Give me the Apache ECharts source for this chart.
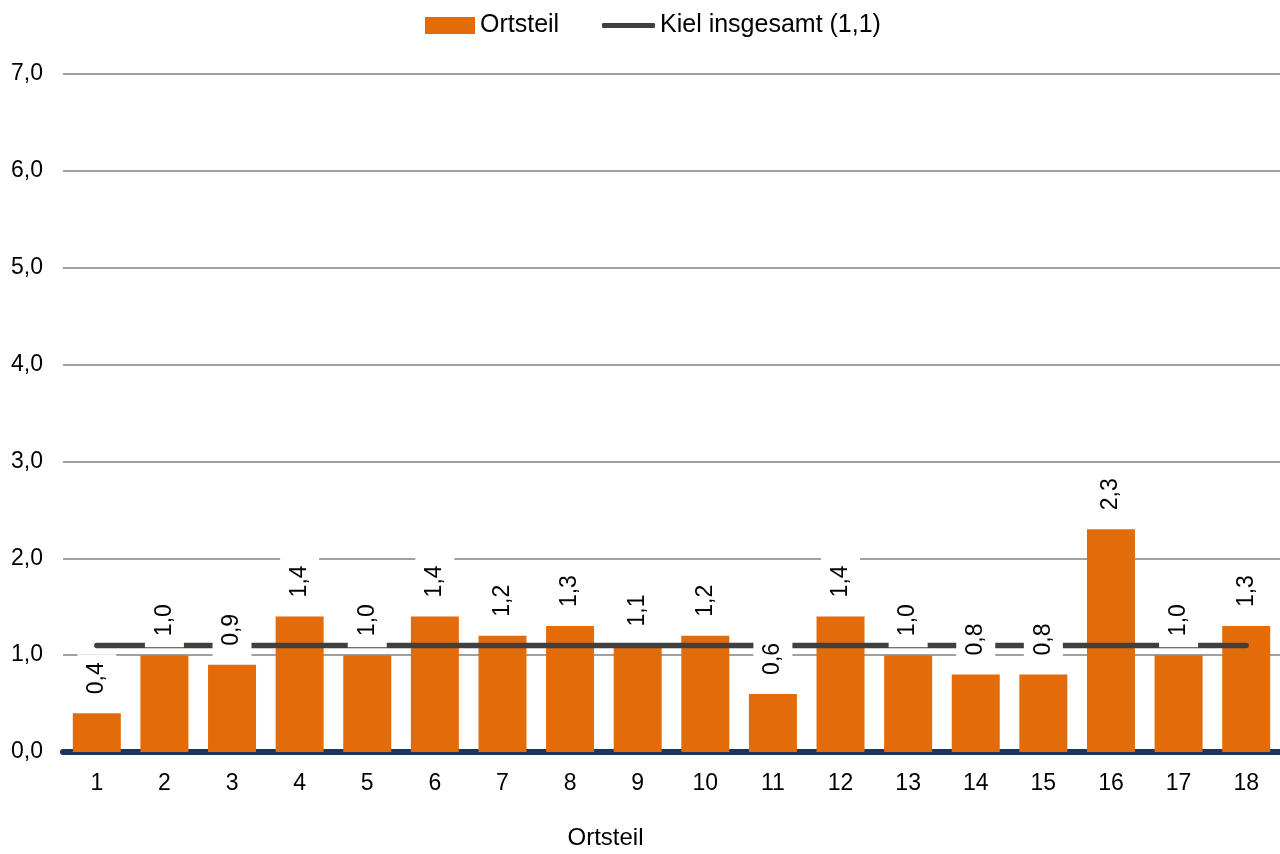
<!DOCTYPE html>
<html>
<head>
<meta charset="utf-8">
<script src="https://cdn.jsdelivr.net/npm/echarts@6/dist/echarts.min.js"></script>
<style>
  html, body { margin: 0; padding: 0; background: #fff; }
  #chart { width: 1280px; height: 854px; }
</style>
</head>
<body>
<div id="chart"></div>
<script>
// Ortsteile 1..18
const categories = ["1", "2", "3", "4", "5", "6", "7", "8", "9", "10", "11", "12", "13", "14", "15", "16", "17", "18"];
const ortsteilValues = [0.4, 1.0, 0.9, 1.4, 1.0, 1.4, 1.2, 1.3, 1.1, 1.2, 0.6, 1.4, 1.0, 0.8, 0.8, 2.3, 1.0, 1.3];
const kielValue = 1.1;
const kielValues = categories.map(() => kielValue);
const yTicks = [0, 1, 2, 3, 4, 5, 6, 7];

const fmt = (v) => Number(v).toFixed(1).replace(".", ",");
const font = "Liberation Sans, Arial, sans-serif";

const chart = echarts.init(document.getElementById("chart"));
chart.setOption({
    animation: false,
    textStyle: { fontFamily: font },
    legend: [
        {
            data: ["Ortsteil"],
            left: 420,
            top: 8,
            icon: "rect",
            itemWidth: 50,
            itemHeight: 17,
            itemGap: 6,
            textStyle: { color: "#000", fontSize: 25, fontFamily: font },
        },
        {
            data: ["Kiel insgesamt (1,1)"],
            left: 597,
            top: 8,
            icon: "roundRect",
            itemWidth: 53,
            itemHeight: 5,
            textStyle: { color: "#000", fontSize: 25, fontFamily: font },
        },
    ],
    grid: { left: 63, right: 0, top: 74, bottom: 102, outerBoundsMode: "none" },
    xAxis: {
        type: "category",
        data: categories,
        name: "Ortsteil",
        nameLocation: "middle",
        nameGap: 74,
        nameTextStyle: { color: "#000", fontSize: 24, fontFamily: font, padding: [0, 132, 0, 0] },
        axisTick: { show: false },
        axisLine: { lineStyle: { color: "#1b365d", width: 6 } },
        axisLabel: { color: "#000", fontSize: 23, margin: 20, fontFamily: font },
    },
    yAxis: {
        type: "value",
        min: yTicks[0],
        max: yTicks[yTicks.length - 1],
        interval: 1,
        axisLine: { show: false },
        axisTick: { show: false },
        axisLabel: { color: "#000", fontSize: 23, margin: 20, formatter: fmt, fontFamily: font },
        splitLine: { lineStyle: { color: "#a0a0a0", width: 2 } },
    },
    series: [
        {
            name: "Ortsteil",
            type: "bar",
            data: ortsteilValues,
            barCategoryGap: "29%",
            itemStyle: { color: "#e36c0a" },
            z: 2,
        },
        {
            name: "Kiel insgesamt (1,1)",
            type: "line",
            data: kielValues,
            symbol: "none",
            lineStyle: { color: "#404040", width: 5.5, cap: "round" },
            itemStyle: { color: "#404040" },
            z: 3,
        },
        {
            // invisible copy carrying the data labels above the line
            name: "labels",
            type: "bar",
            data: ortsteilValues,
            barGap: "-100%",
            barCategoryGap: "29%",
            itemStyle: { color: "rgba(0,0,0,0)" },
            silent: true,
            z: 10,
            label: {
                show: true,
                position: "top",
                distance: 8,
                rotate: 90,
                align: "left",
                verticalAlign: "middle",
                color: "#000",
                fontSize: 23,
                fontFamily: font,
                backgroundColor: "#fff",
                padding: [8, 8, 8, 11],
                formatter: (p) => fmt(p.value),
            },
        },
    ],
});
</script>
</body>
</html>
